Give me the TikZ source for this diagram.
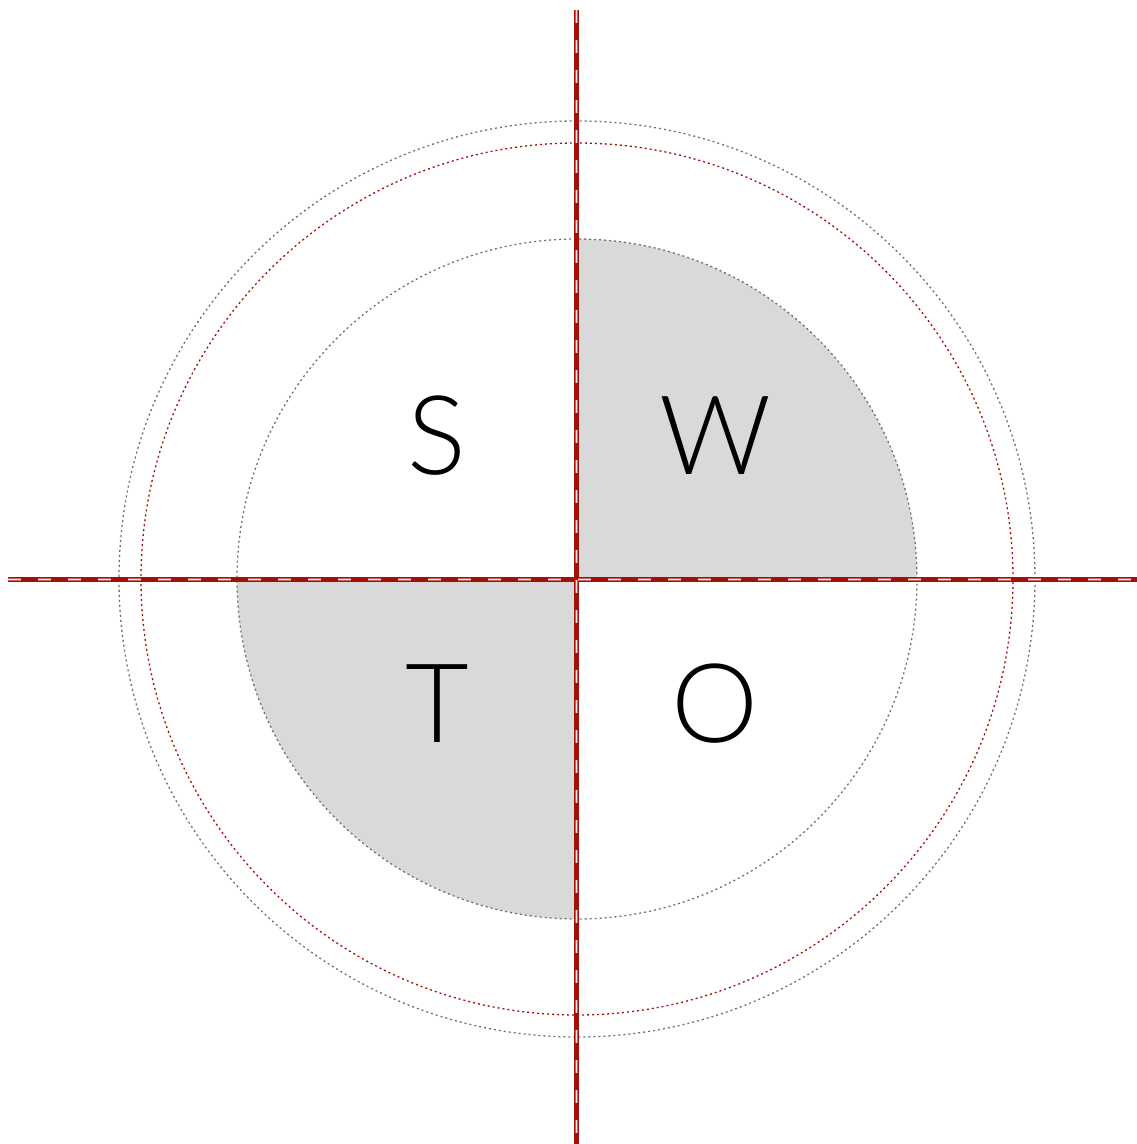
\documentclass[tikz,border=0pt]{standalone}
\usepackage{fontspec}
\newfontfamily\letterfont{Lato Light}
\usetikzlibrary{backgrounds}
\definecolor{axisred}{HTML}{A50F0A}
\definecolor{ringgray}{HTML}{707070}
\definecolor{quadfill}{HTML}{D9D9D9}
\tikzset{
  ring/.style={draw=ringgray,line width=1.3pt,dash pattern=on 2pt off 3pt},
  redring/.style={ring,draw=axisred},
  quadrant/.style={fill=quadfill,draw=none},
  axisline/.style={draw=axisred,line width=5pt},
  axisglow/.style={draw=white,opacity=0.35,line width=3pt,dash pattern=on 13pt off 17pt},
  axisdash/.style={draw=white,opacity=0.85,line width=1pt,dash pattern=on 13pt off 17pt},
  letter/.style={font=\letterfont\fontsize{110}{110}\selectfont,inner sep=0pt,anchor=base,text=black}
}

\begin{document}
\begin{tikzpicture}[x=1pt,y=1pt]
  \useasboundingbox (-577,-565) rectangle (559,579);
  % shaded quadrants
  \fill[quadrant] (0,0) -- (0,340) arc (90:0:340) -- cycle;
  \fill[quadrant] (0,0) -- (-340,0) arc (180:270:340) -- cycle;
  % rings
  \draw[ring] (0,0) circle (340);
  \draw[redring] (0,0) circle (436);
  \draw[ring] (0,0) circle (458);
  % axes
  \coordinate (west) at (-569,0);
  \coordinate (east) at (569,0);
  \coordinate (north) at (0,569);
  \coordinate (south) at (0,-569);
  \draw[axisline] (west) -- (east);
  \draw[axisline] (north) -- (south);
  \draw[axisglow] (west) -- (east);
  \draw[axisglow] (north) -- (south);
  \draw[axisdash] (west) -- (east);
  \draw[axisdash] (north) -- (south);
  % letters
  \node[letter] (s) at (-140,105) {S};
  \node[letter] (w) at (138,105) {W};
  \node[letter] (t) at (-140,-163) {T};
  \node[letter] (o) at (138,-163) {O};
\end{tikzpicture}
\end{document}
